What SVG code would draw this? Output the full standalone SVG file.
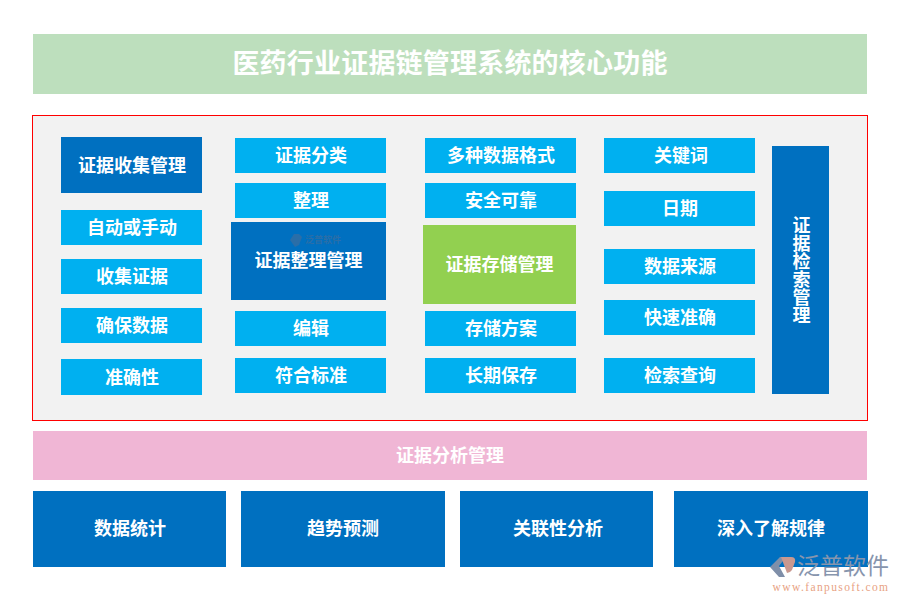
<svg xmlns="http://www.w3.org/2000/svg" width="900" height="600" viewBox="0 0 900 600">
<style>
text{font-family:"Noto Sans CJK SC","Liberation Sans",sans-serif;font-weight:700;fill:#fff;text-anchor:middle;dominant-baseline:central;font-size:18px}
.c{fill:#00b0f0}.d{fill:#0070c0}
</style>
<rect width="900" height="600" fill="#fff"/>
<g id="title"><rect x="33" y="34" width="834" height="60" fill="#bddfbd"/><text x="450" y="61" style="font-size:27px;letter-spacing:.2px">医药行业证据链管理系统的核心功能</text></g>
<rect id="panel" x="32.500" y="115.500" width="835" height="305" fill="#f2f2f2" stroke="#f00" stroke-width="1"/>
<g id="col1">
<g id="n1"><rect class="d" x="61" y="137" width="141" height="56"/><text x="132" y="164">证据收集管理</text></g>
<g id="n2"><rect class="c" x="61" y="210" width="141" height="35"/><text x="132" y="226">自动或手动</text></g>
<g id="n3"><rect class="c" x="61" y="259" width="141" height="35"/><text x="132" y="275">收集证据</text></g>
<g id="n4"><rect class="c" x="61" y="308" width="141" height="35"/><text x="132" y="324">确保数据</text></g>
<g id="n5"><rect class="c" x="61" y="359" width="141" height="36"/><text x="132" y="375.500">准确性</text></g>
</g>
<g id="col2">
<g id="n6"><rect class="c" x="235" y="138" width="151" height="35"/><text x="311" y="153.500">证据分类</text></g>
<g id="n7"><rect class="c" x="235" y="183" width="151" height="35"/><text x="311" y="199">整理</text></g>
<g id="n8"><rect class="d" x="231" y="222" width="155" height="78"/>
<path d="M290 240l4-6h5l3 3-3 8-4 2z" fill="#2a6ea8"/>
<text x="323" y="239" style="font-size:9px;fill:#2a6ea8">泛普软件</text>
<text x="308.500" y="259">证据整理管理</text></g>
<g id="n9"><rect class="c" x="235" y="311" width="151" height="35"/><text x="311" y="327">编辑</text></g>
<g id="n10"><rect class="c" x="235" y="358" width="151" height="35"/><text x="311" y="374">符合标准</text></g>
</g>
<g id="col3">
<g id="n11"><rect class="c" x="425" y="138" width="151" height="35"/><text x="501" y="153.500">多种数据格式</text></g>
<g id="n12"><rect class="c" x="425" y="183" width="151" height="35"/><text x="501" y="199">安全可靠</text></g>
<g id="n13"><rect x="423" y="225" width="153" height="79" fill="#92d050"/><text x="499.500" y="263">证据存储管理</text></g>
<g id="n14"><rect class="c" x="425" y="311" width="151" height="35"/><text x="501" y="327">存储方案</text></g>
<g id="n15"><rect class="c" x="425" y="358" width="151" height="35"/><text x="501" y="374">长期保存</text></g>
</g>
<g id="col4">
<g id="n16"><rect class="c" x="604" y="138" width="151" height="35"/><text x="681" y="153.500">关键词</text></g>
<g id="n17"><rect class="c" x="604" y="191" width="151" height="35"/><text x="680" y="207">日期</text></g>
<g id="n18"><rect class="c" x="604" y="249" width="151" height="35"/><text x="680" y="265">数据来源</text></g>
<g id="n19"><rect class="c" x="604" y="300" width="151" height="35"/><text x="680" y="316">快速准确</text></g>
<g id="n20"><rect class="c" x="604" y="358" width="151" height="35"/><text x="680" y="374">检索查询</text></g>
</g>
<g id="n21"><rect class="d" x="772" y="146" width="57" height="248"/><text x="801.500" y="270" style="writing-mode:vertical-rl;glyph-orientation-vertical:0">证据检索管理</text></g>
<g id="n22"><rect x="33" y="431" width="834" height="49" fill="#f0b6d5"/><text x="450" y="454">证据分析管理</text></g>
<g id="n23"><rect class="d" x="33" y="491" width="193" height="76"/><text x="130" y="527">数据统计</text></g>
<g id="n24"><rect class="d" x="241" y="491" width="204" height="76"/><text x="343" y="527">趋势预测</text></g>
<g id="n25"><rect class="d" x="460" y="491" width="193" height="76"/><text x="558" y="527">关联性分析</text></g>
<g id="n26"><rect class="d" x="674" y="491" width="194" height="76"/><text x="771" y="527">深入了解规律</text></g>
<g id="logo">
<path d="M770 567l10-10h6l-7 9 6 11h-6z" fill="#7f8fa9"/><path d="M781 557h10q5 0 4 5l-3 8q-2 3-5 3z" fill="#c9988f"/>
<text x="843" y="564" style="font-size:23px;font-weight:400;fill:#8795ad">泛普软件</text>
<text x="831" y="586.500" style="font-size:11.500px;font-family:'Liberation Serif',serif;font-weight:400;fill:#e8a283;letter-spacing:1.4px">www.fanpusoft.com</text>
</g>
</svg>
